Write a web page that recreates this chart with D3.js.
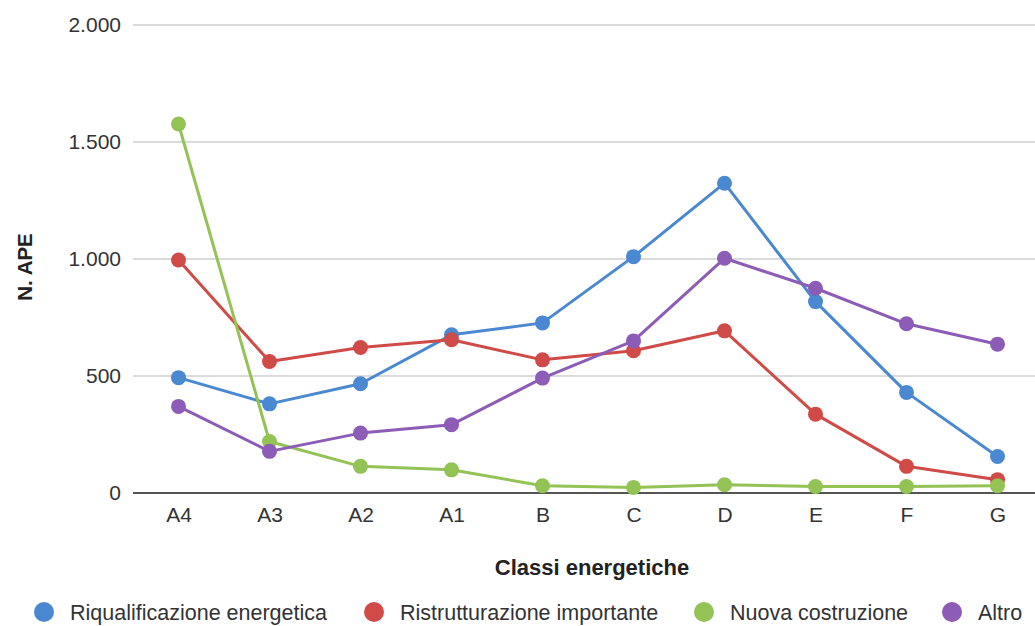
<!DOCTYPE html>
<html><head><meta charset="utf-8">
<script src="https://cdn.jsdelivr.net/npm/d3@7"></script>
<style>body{margin:0;background:#fff;}svg{display:block;font-family:"Liberation Sans",Arial,sans-serif;}</style>
</head><body><svg id="c" width="1035" height="626"></svg>
<script>
const categories = ["A4","A3","A2","A1","B","C","D","E","F","G"];
const seriesNames = ["Riqualificazione energetica","Ristrutturazione importante","Nuova costruzione","Altro"];
const riqualificazione = [493,381,467,676,727,1010,1324,818,430,156];
const ristrutturazione = [996,562,622,655,569,608,693,337,114,57];
const nuovaCostruzione = [1577,220,114,99,31,24,35,28,28,31];
const altro = [370,178,256,292,491,650,1003,875,723,636];
const yTicks = [0,500,1000,1500,2000];
const colors = ["#4a88d1","#d04a47","#93c255","#8c5cb7"];

(function(){
const FONT = '"Liberation Sans",Arial,sans-serif';
const series = [riqualificazione, ristrutturazione, nuovaCostruzione, altro];
const svg = d3.select("#c");
const mLeft = 133, mRight = 1043, mTop = 25, mBottom = 493;
const x = d3.scalePoint().domain(categories).range([mLeft, mRight]).padding(0.5);
const y = d3.scaleLinear().domain([0,2000]).range([mBottom, mTop]);
const fmt = v => d3.format(",")(v).replace(/,/g, ".");

svg.append("g").selectAll("line").data(yTicks.filter(t=>t>0)).join("line")
  .attr("x1", mLeft).attr("x2", 1035).attr("y1", d=>y(d)).attr("y2", d=>y(d))
  .attr("stroke", "#cfcfcf").attr("stroke-width", 1.3);
svg.append("line").attr("x1", mLeft).attr("x2", 1035).attr("y1", y(0)).attr("y2", y(0))
  .attr("stroke", "#555").attr("stroke-width", 2);

const yAxis = d3.axisLeft(y).tickValues(yTicks).tickFormat(fmt).tickSize(0).tickPadding(12);
const ya = svg.append("g").attr("transform", `translate(${mLeft},0)`).call(yAxis);
ya.select(".domain").remove();
ya.selectAll("text").attr("font-size", 21).attr("fill", "#333").style("font-family", FONT);

const xAxis = d3.axisBottom(x).tickSize(0).tickPadding(14);
const xa = svg.append("g").attr("transform", `translate(0,${mBottom})`).call(xAxis);
xa.select(".domain").remove();
xa.selectAll("text").attr("font-size", 21).attr("fill", "#333").attr("y", 29).attr("dy", null).style("font-family", FONT);

svg.append("text").attr("transform", `translate(32,267) rotate(-90)`)
  .attr("text-anchor","middle").attr("font-size",20.5).attr("font-weight","bold").attr("fill","#222").text("N. APE");
svg.append("text").attr("x", 592).attr("y", 575).attr("text-anchor","middle")
  .attr("font-size",22).attr("font-weight","bold").attr("fill","#222").text("Classi energetiche");

const line = d3.line().x((d,i)=>x(categories[i])).y(d=>y(d));
series.forEach((s, k) => {
  const g = svg.append("g");
  g.append("path").datum(s).attr("d", line).attr("fill","none")
    .attr("stroke", colors[k]).attr("stroke-width", 3).attr("stroke-linejoin","round");
  g.selectAll("circle").data(s).join("circle")
    .attr("cx", (d,i)=>x(categories[i])).attr("cy", d=>y(d)).attr("r", 7.5).attr("fill", colors[k]);
});

const legX = [44, 374, 704, 952];
const lg = svg.append("g");
seriesNames.forEach((n, k) => {
  lg.append("circle").attr("cx", legX[k]).attr("cy", 612).attr("r", 10).attr("fill", colors[k]);
  lg.append("text").attr("x", legX[k]+26).attr("y", 620).attr("font-size",21.5).attr("fill","#333").text(n);
});
})();
</script></body></html>
